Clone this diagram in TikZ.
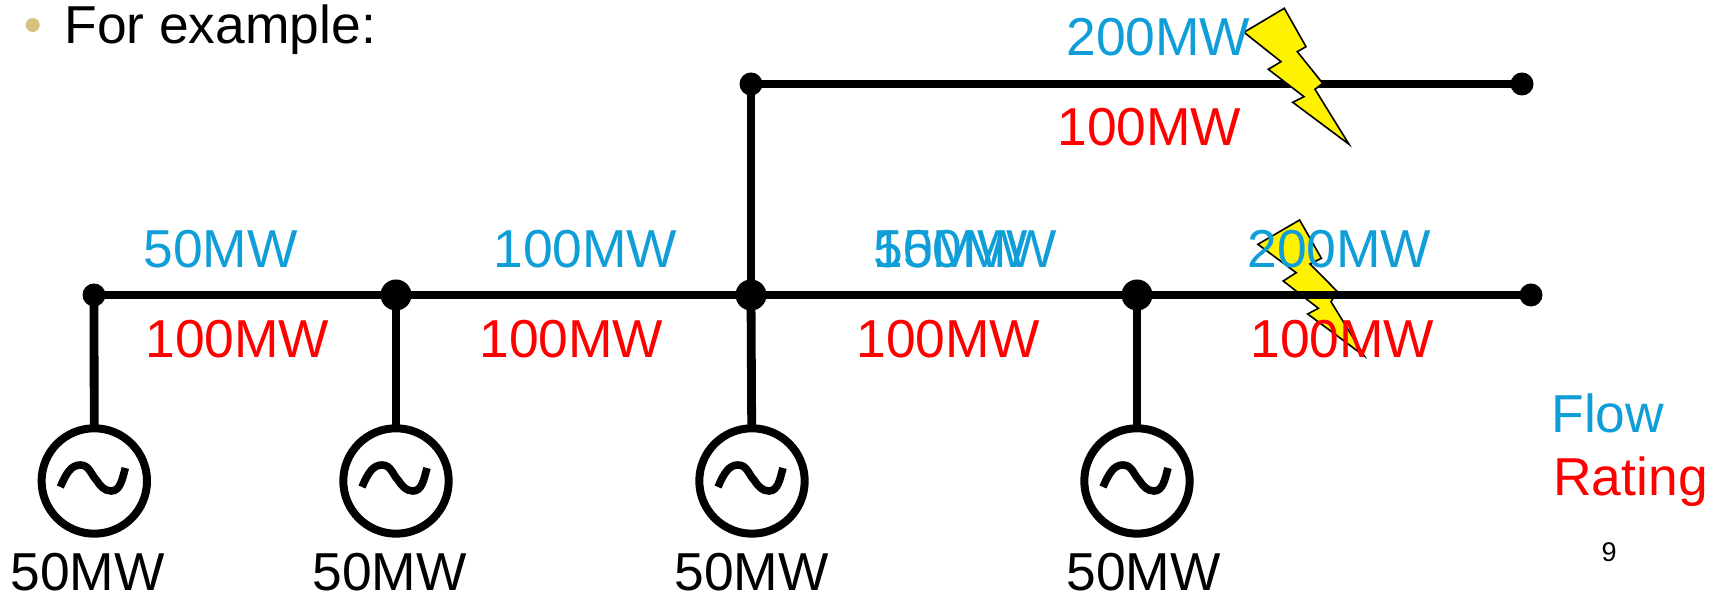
\documentclass[tikz,border=0pt]{standalone}
\usepackage{fontspec}
\setmainfont{Liberation Sans}
\usetikzlibrary{calc}
\definecolor{flowblue}{HTML}{0F9ED8}
\definecolor{bulletgold}{HTML}{D6C27F}
\tikzset{
  busline/.style={line width=4.4pt},
  smalldot/.style={circle,fill=black,inner sep=0pt,outer sep=0pt,minimum size=11.5pt},
  bigdot/.style={circle,fill=black,inner sep=0pt,outer sep=0pt,minimum size=15.5pt},
  gen/.style={circle,draw=black,line width=4pt,inner sep=0pt,outer sep=0pt,minimum size=52.7pt},
  bolt/.style={draw=black,fill=yellow,line width=0.8pt,line join=miter},
  lab/.style={anchor=base west,inner sep=0pt,font=\fontsize{26.7}{30}\selectfont},
  flow/.style={lab,text=flowblue},
  rating/.style={lab,text=red},
  wave/.style={line width=3.8pt}
}
\newcommand{\sinewave}[1]{\draw[wave,shift={(#1)}] (-34,-6) .. controls (-28,8) and (-23,16) .. (-14,16) .. controls (-5,16) and (-3,6) .. (2,1) .. controls (6,-5) and (10,-10) .. (17,-10) .. controls (26,-10) and (28,2) .. (31,13);}
\begin{document}
\begin{tikzpicture}[x=0.5pt,y=0.5pt]
\useasboundingbox (0,0) rectangle (1721,593);
\path[fill=white] (0,0) rectangle (1721,593);
% y is measured upward: 593 minus the pixel row
\node[smalldot] (b1) at (94,298) {};
\node[bigdot] (b2) at (396,298) {};
\node[bigdot] (b3) at (751,298) {};
\node[bigdot] (b4) at (1137,298) {};
\node[smalldot] (b5) at (1531,298) {};
\node[smalldot] (t1) at (751,509) {};
\node[smalldot] (t2) at (1522,509) {};
\node[gen] (g1) at (94.3,112) {};
\node[gen] (g2) at (396,112) {};
\node[gen] (g3) at (752,112) {};
\node[gen] (g4) at (1137,112) {};
\sinewave{g1}\sinewave{g2}\sinewave{g3}\sinewave{g4}
% lower bolt lies under the bus
\path[bolt] (1257.9,348.7) -- (1299.6,373) -- (1321.4,334.7) -- (1310,329) -- (1337.5,301.3) -- (1331,291.3) -- (1364.3,237) -- (1307.7,279) -- (1318.4,284.7) -- (1283.2,312) -- (1296.2,320.3) -- cycle;
\draw[busline] (b1.center) -- (b2.center);
\draw[busline] (b2.center) -- (b3.center);
\draw[busline] (b3.center) -- (b4.center);
\draw[busline] (b4.center) -- (b5.center);
\draw[busline] (b3.center) -- (t1.center);
\draw[busline] (t1.center) -- (t2.center);
\draw[busline] (b1.center) -- (g1);
\draw[busline] (b2.center) -- (g2);
\draw[busline] (b3.center) -- (g3);
\draw[busline] (b4.center) -- (g4);
% upper bolt lies over the line
\path[bolt] (1244,560.7) -- (1284.3,584.7) -- (1306,546.3) -- (1297.3,541.3) -- (1322.7,509.7) -- (1315,503.7) -- (1349,448.7) -- (1292.7,490.7) -- (1304,496.3) -- (1268.3,523.7) -- (1281,531.3) -- cycle;
\fill[bulletgold] (32.7,568) circle (3.5pt);
\node[lab] (title) at (64,549) {For example:};
\node[flow] (f0) at (1066,537) {200MW};
\node[rating] (r0) at (1057,447) {100MW};
\node[flow] (f1) at (143,325) {50MW};
\node[flow] (f2) at (493,325) {100MW};
\node[flow] (f3a) at (873,325) {50MW};
\node[flow] (f3b) at (873,325) {150MW};
\node[flow] (f4) at (1247,325) {200MW};
\node[rating] (r1) at (145,235) {100MW};
\node[rating] (r2) at (479,235) {100MW};
\node[rating] (r3) at (856,235) {100MW};
\node[rating] (r4) at (1250,235) {100MW};
\node[lab] (p1) at (10,2.5) {50MW};
\node[lab] (p2) at (312,2.5) {50MW};
\node[lab] (p3) at (674,2.5) {50MW};
\node[lab] (p4) at (1066,2.5) {50MW};
\node[flow] (kf) at (1551,160) {Flow};
\node[rating] (kr) at (1553,97) {Rating};
\node[anchor=center,inner sep=0pt,font=\fontsize{13.5}{16}\selectfont] (pg) at (1609,41) {9};
\end{tikzpicture}
\end{document}
